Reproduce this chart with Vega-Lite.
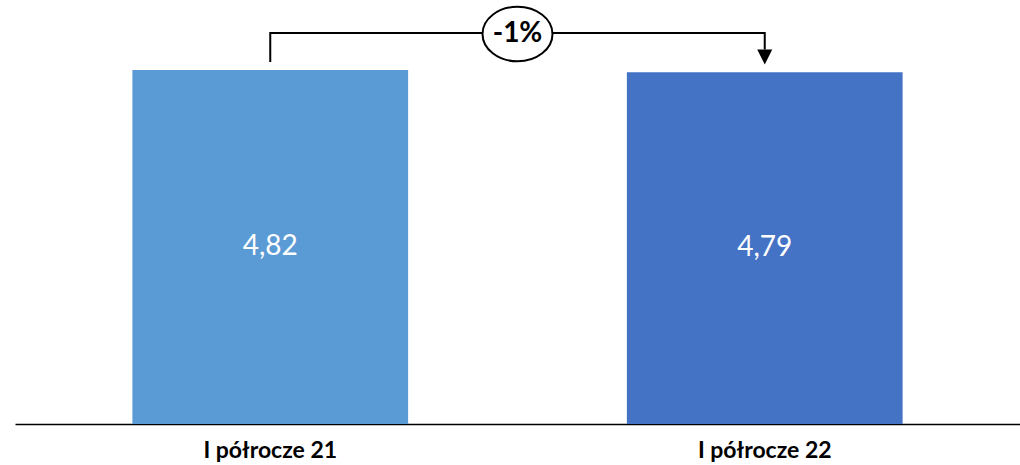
{
  "$schema": "https://vega.github.io/schema/vega-lite/v6.json",
  "autosize": "none",
  "width": 1005,
  "height": 424,
  "padding": {"left": 15, "top": 0, "right": 0, "bottom": 41},
  "background": "white",
  "config": {"view": {"stroke": null}},
  "datasets": {
    "bars": [
      {"okres": "I półrocze 21", "wartosc": 4.82, "etykieta": "4,82"},
      {"okres": "I półrocze 22", "wartosc": 4.79, "etykieta": "4,79"}
    ],
    "bracket": [
      {"okres": "I półrocze 21", "v": 4.929, "o": 1},
      {"okres": "I półrocze 21", "v": 5.324, "o": 2},
      {"okres": "I półrocze 22", "v": 5.324, "o": 3},
      {"okres": "I półrocze 22", "v": 5.1, "o": 4}
    ],
    "arrow": [{"okres": "I półrocze 22", "v": 4.997}],
    "change": [{"pos": 0.5, "v": 5.31, "tekst": "-1%"}]
  },
  "resolve": {"scale": {"x": "independent"}},
  "layer": [
    {
      "layer": [
        {
          "data": {"name": "bars"},
          "mark": {"type": "bar"},
          "encoding": {
            "x": {
              "field": "okres", "type": "nominal", "sort": null,
              "scale": {"paddingInner": 0.4424, "paddingOuter": 0.2374},
              "axis": {"title": null, "ticks": false, "labelAngle": 0, "labelFont": "Lato", "labelFontWeight": "bold", "labelFontSize": 23, "labelColor": "#000000", "labelPadding": 15, "domainColor": "#000000", "domainWidth": 1.5}
            },
            "y": {"field": "wartosc", "type": "quantitative", "scale": {"domain": [0, 5.773], "nice": false, "zero": true}, "axis": null},
            "color": {"field": "okres", "type": "nominal", "scale": {"range": ["#5B9BD5", "#4472C4"]}, "legend": null}
          }
        },
        {
          "data": {"name": "bars"},
          "transform": [{"calculate": "datum.wartosc / 2", "as": "srodek"}],
          "mark": {"type": "text", "color": "white", "font": "Lato", "fontSize": 28, "baseline": "middle", "align": "center"},
          "encoding": {
            "x": {"field": "okres", "type": "nominal", "sort": null},
            "y": {"field": "srodek", "type": "quantitative"},
            "text": {"field": "etykieta"}
          }
        },
        {
          "data": {"name": "bracket"},
          "mark": {"type": "line", "color": "black", "strokeWidth": 2},
          "encoding": {
            "x": {"field": "okres", "type": "nominal", "sort": null},
            "y": {"field": "v", "type": "quantitative"},
            "order": {"field": "o"}
          }
        },
        {
          "data": {"name": "arrow"},
          "mark": {"type": "point", "shape": "M -1 -1 L 1 -1 L 0 1 Z", "size": 225, "filled": true, "color": "black", "opacity": 1},
          "encoding": {
            "x": {"field": "okres", "type": "nominal", "sort": null},
            "y": {"field": "v", "type": "quantitative"}
          }
        }
      ]
    },
    {
      "layer": [
        {
          "data": {"name": "change"},
          "mark": {"type": "point", "shape": "M -1 0 A 1 0.78 0 1 1 1 0 A 1 0.78 0 1 1 -1 0 Z", "size": 4900, "filled": true, "fill": "white", "stroke": "black", "strokeWidth": 2, "opacity": 1},
          "encoding": {
            "x": {"field": "pos", "type": "quantitative", "scale": {"domain": [0, 1], "nice": false}, "axis": null},
            "y": {"field": "v", "type": "quantitative"}
          }
        },
        {
          "data": {"name": "change"},
          "mark": {"type": "text", "font": "Lato", "fontWeight": "bold", "fontSize": 28, "color": "black", "baseline": "middle", "align": "center"},
          "encoding": {
            "x": {"field": "pos", "type": "quantitative"},
            "y": {"field": "v", "type": "quantitative"},
            "text": {"field": "tekst"}
          }
        }
      ]
    }
  ]
}
